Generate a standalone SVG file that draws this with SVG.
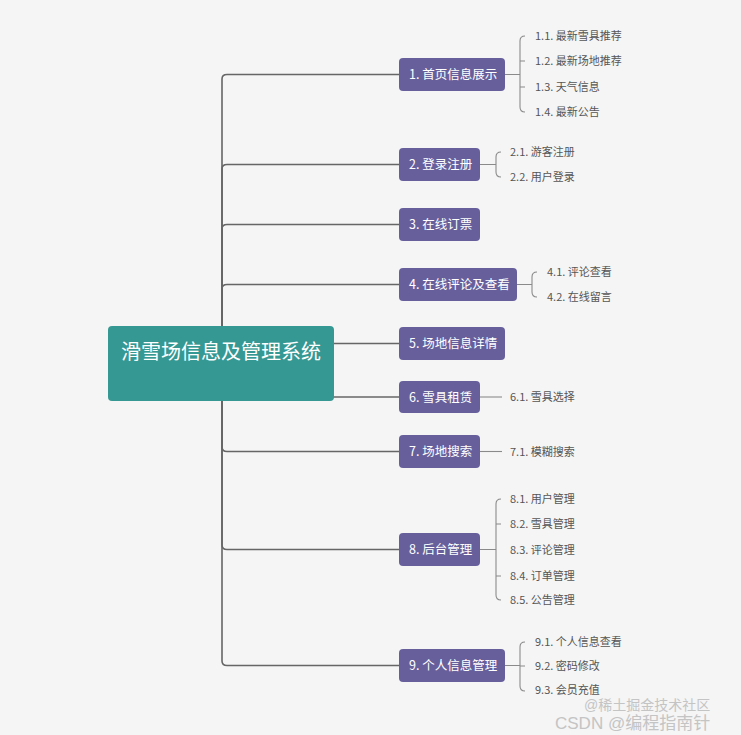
<svg xmlns="http://www.w3.org/2000/svg" width="741" height="735" viewBox="0 0 741 735">
<style>
.main{stroke:#666;stroke-width:1.6;fill:none}
.sub{stroke:#8a8a8a;stroke-width:1.1;fill:none}
.n rect{fill:#675f9c}
.n text{fill:#fff;font-family:"Microsoft YaHei","Noto Sans CJK SC",sans-serif;font-size:12.5px}
.c{fill:#555;font-family:"Microsoft YaHei","Noto Sans CJK SC",sans-serif;font-size:11px}
.wm{fill:#c4c4c4;font-family:"Liberation Sans","Noto Sans CJK SC",sans-serif}
</style>
<rect width="741" height="735" fill="#f5f5f5"/>
<g id="connectors">
<path class="main" d="M222,330 L222,79 Q222,74.5 227,74.5 L399,74.5"/>
<path class="main" d="M222,330 L222,169 Q222,164.5 227,164.5 L399,164.5"/>
<path class="main" d="M222,330 L222,229 Q222,224.5 227,224.5 L399,224.5"/>
<path class="main" d="M222,330 L222,289 Q222,284.5 227,284.5 L399,284.5"/>
<path class="main" d="M300,343.5 L399,343.5"/>
<path class="main" d="M300,397 L399,397"/>
<path class="main" d="M222,400 L222,447 Q222,451.5 227,451.5 L399,451.5"/>
<path class="main" d="M222,400 L222,545 Q222,549.5 227,549.5 L399,549.5"/>
<path class="main" d="M222,400 L222,661 Q222,665.5 227,665.5 L399,665.5"/>
<path class="sub" d="M505,74.5 L520,74.5 M525,36 Q520,36 520,41 L520,107 Q520,112 525,112 M520,61 L525,61 M520,87 L525,87"/>
<path class="sub" d="M480,164.5 L496,164.5 M501,152 Q496,152 496,157 L496,172 Q496,177 501,177"/>
<path class="sub" d="M517,284.5 L532,284.5 M537,272 Q532,272 532,277 L532,292 Q532,297 537,297"/>
<path class="sub" d="M480,397 L502,397"/>
<path class="sub" d="M480,451.5 L502,451.5"/>
<path class="sub" d="M480,549.5 L496,549.5 M501,499 Q496,499 496,504 L496,595 Q496,600 501,600 M496,524 L501,524 M496,576 L501,576"/>
<path class="sub" d="M505,665.5 L520,665.5 M525,642 Q520,642 520,647 L520,686 Q520,691 525,691 M520,666 L525,666"/>
</g>
<g id="root">
<rect x="108" y="326" width="226" height="75" rx="4" fill="#359893"/>
<text x="221" y="359" text-anchor="middle" fill="#fff" font-family="Microsoft YaHei,Noto Sans CJK SC,sans-serif" font-size="20">滑雪场信息及管理系统</text>
</g>
<g id="n1" class="n"><rect x="399" y="58" width="106" height="33" rx="4"/><text x="409" y="79">1. 首页信息展示</text></g>
<g id="n2" class="n"><rect x="399" y="148" width="81" height="33" rx="4"/><text x="409" y="169">2. 登录注册</text></g>
<g id="n3" class="n"><rect x="399" y="208" width="81" height="33" rx="4"/><text x="409" y="229">3. 在线订票</text></g>
<g id="n4" class="n"><rect x="399" y="268" width="118" height="33" rx="4"/><text x="409" y="289">4. 在线评论及查看</text></g>
<g id="n5" class="n"><rect x="399" y="327" width="106" height="33" rx="4"/><text x="409" y="348">5. 场地信息详情</text></g>
<g id="n6" class="n"><rect x="399" y="381" width="81" height="32" rx="4"/><text x="409" y="401.5">6. 雪具租赁</text></g>
<g id="n7" class="n"><rect x="399" y="435" width="81" height="33" rx="4"/><text x="409" y="456">7. 场地搜索</text></g>
<g id="n8" class="n"><rect x="399" y="533" width="81" height="33" rx="4"/><text x="409" y="554">8. 后台管理</text></g>
<g id="n9" class="n"><rect x="399" y="649" width="106" height="33" rx="4"/><text x="409" y="670">9. 个人信息管理</text></g>
<g id="children">
<text class="c" x="535" y="40">1.1. 最新雪具推荐</text>
<text class="c" x="535" y="65">1.2. 最新场地推荐</text>
<text class="c" x="535" y="91">1.3. 天气信息</text>
<text class="c" x="535" y="116">1.4. 最新公告</text>
<text class="c" x="510" y="156">2.1. 游客注册</text>
<text class="c" x="510" y="181">2.2. 用户登录</text>
<text class="c" x="547" y="276">4.1. 评论查看</text>
<text class="c" x="547" y="301">4.2. 在线留言</text>
<text class="c" x="510" y="401">6.1. 雪具选择</text>
<text class="c" x="510" y="455.5">7.1. 模糊搜索</text>
<text class="c" x="510" y="503">8.1. 用户管理</text>
<text class="c" x="510" y="528">8.2. 雪具管理</text>
<text class="c" x="510" y="554">8.3. 评论管理</text>
<text class="c" x="510" y="580">8.4. 订单管理</text>
<text class="c" x="510" y="604">8.5. 公告管理</text>
<text class="c" x="535" y="646">9.1. 个人信息查看</text>
<text class="c" x="535" y="670">9.2. 密码修改</text>
<text class="c" x="535" y="694">9.3. 会员充值</text>
</g>
<g id="watermark">
<text class="wm" x="584" y="710" font-size="14">@稀土掘金技术社区</text>
<text class="wm" x="555" y="729" font-size="17" fill="#b8b8b8">CSDN @编程指南针</text>
</g>
</svg>
